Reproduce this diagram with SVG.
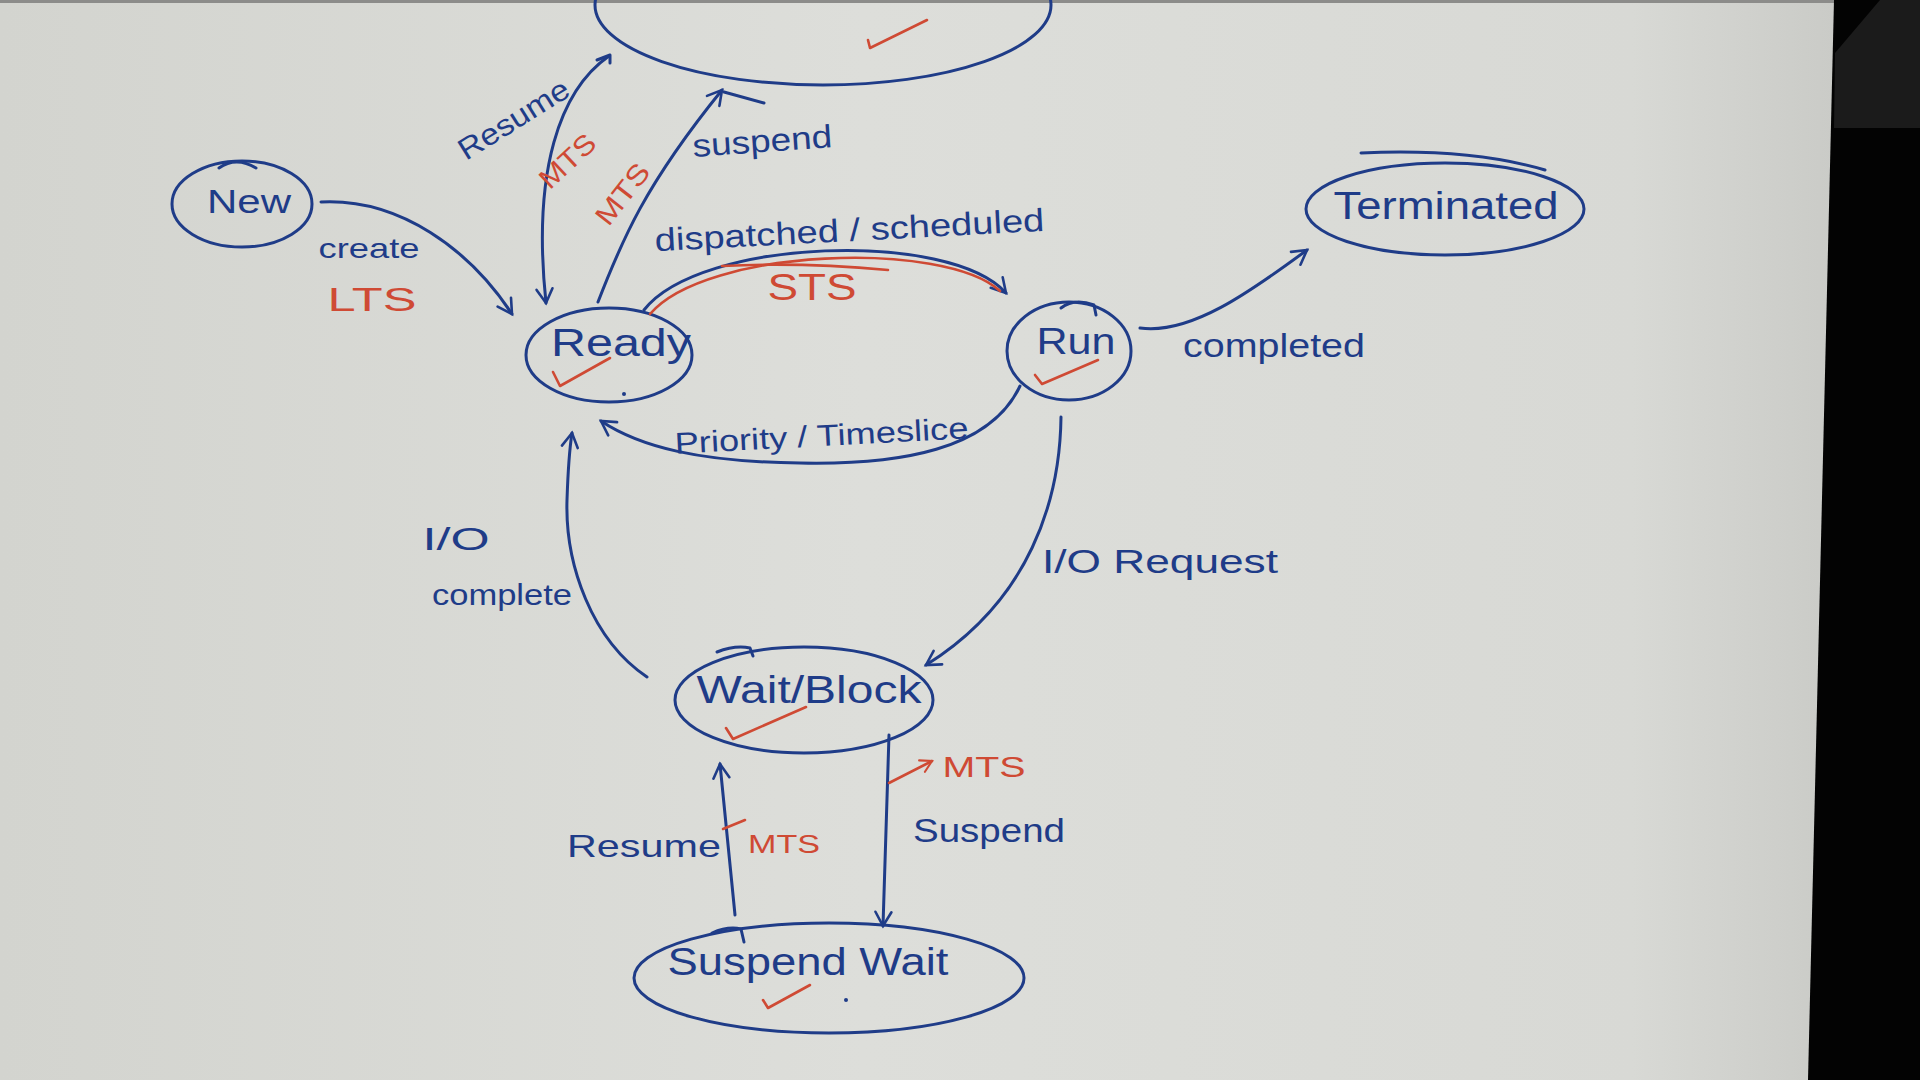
<svg xmlns="http://www.w3.org/2000/svg" width="1920" height="1080" viewBox="0 0 1920 1080">
<defs>
<linearGradient id="paper" x1="0" y1="0" x2="1" y2="0">
<stop offset="0" stop-color="#d3d4cf"/>
<stop offset="0.45" stop-color="#dddeda"/>
<stop offset="0.85" stop-color="#d8d9d5"/>
<stop offset="1" stop-color="#c4c5c1"/>
</linearGradient>
<marker id="ah" viewBox="0 0 20 20" refX="17" refY="10" markerWidth="20" markerHeight="20" markerUnits="userSpaceOnUse" orient="auto">
<path d="M3,2 L17,10 L3,18" fill="none" stroke="#1f3c88" stroke-width="2.6" stroke-linecap="round"/>
</marker>
<marker id="ahr" viewBox="0 0 20 20" refX="17" refY="10" markerWidth="16" markerHeight="16" markerUnits="userSpaceOnUse" orient="auto">
<path d="M3,2 L17,10 L3,18" fill="none" stroke="#cf4a34" stroke-width="2.6" stroke-linecap="round"/>
</marker>
</defs>
<style>
.node{fill:none;stroke:#1f3c88;stroke-width:3;}
.ink{fill:none;stroke:#1f3c88;stroke-width:3;stroke-linecap:round;stroke-linejoin:round;}
.edge{fill:none;stroke:#1f3c88;stroke-width:3;stroke-linecap:round;}
.red{fill:none;stroke:#cf4a34;stroke-width:2.6;stroke-linecap:round;stroke-linejoin:round;}
.t{font-family:"Liberation Sans","DejaVu Sans",sans-serif;fill:#1f3c88;}
.tr{font-family:"Liberation Sans","DejaVu Sans",sans-serif;fill:#cf4a34;}
</style>
<rect x="0" y="0" width="1920" height="1080" fill="url(#paper)"/>
<rect x="0" y="0" width="1920" height="3" fill="#8c8c8a"/>
<polygon points="1834,0 1920,0 1920,1080 1808,1080" fill="#030303"/>
<polygon points="1835,53 1880,0 1920,0 1920,128 1834,128" fill="#1b1b1b"/>

<g id="node-suspend-ready">
<ellipse class="node" cx="823" cy="5" rx="228" ry="80"/>
<path class="red" d="M868 40 L870 48 L927 20"/>
</g>

<g id="node-new">
<ellipse class="node" cx="242" cy="204" rx="70" ry="43"/>
<path class="ink" d="M219 168 Q236 156 256 168"/>
<text class="t" x="249" y="213" font-size="34" text-anchor="middle" textLength="84" lengthAdjust="spacingAndGlyphs">New</text>
</g>

<g id="node-ready">
<ellipse class="node" cx="609" cy="355" rx="83" ry="47"/>
<text class="t" x="621" y="356" font-size="38" text-anchor="middle" textLength="140" lengthAdjust="spacingAndGlyphs">Ready</text>
<path class="red" d="M553 372 L560 386 L610 358"/>
<circle cx="624" cy="394" r="2" fill="#1f3c88"/>
</g>

<g id="node-run">
<ellipse class="node" cx="1069" cy="351" rx="62" ry="49"/>
<path class="ink" d="M1061 308 Q1074 298 1094 305 L1096 315"/>
<text class="t" x="1076" y="354" font-size="36" text-anchor="middle" textLength="79" lengthAdjust="spacingAndGlyphs">Run</text>
<path class="red" d="M1035 375 L1042 384 L1098 360"/>
</g>

<g id="node-terminated">
<ellipse class="node" cx="1445" cy="209" rx="139" ry="46"/>
<path class="ink" d="M1361 153 Q1470 148 1545 170"/>
<text class="t" x="1446" y="219" font-size="38" text-anchor="middle" textLength="225" lengthAdjust="spacingAndGlyphs">Terminated</text>
</g>

<g id="node-wait-block">
<ellipse class="node" cx="804" cy="700" rx="129" ry="53"/>
<path class="ink" d="M717 652 Q735 645 750 648 L753 656"/>
<text class="t" x="809" y="703" font-size="38" text-anchor="middle" textLength="225" lengthAdjust="spacingAndGlyphs">Wait/Block</text>
<path class="red" d="M726 728 L733 739 L806 707"/>
</g>

<g id="node-suspend-wait">
<ellipse class="node" cx="829" cy="978" rx="195" ry="55"/>
<path class="ink" d="M712 933 Q728 926 741 929 L744 942"/>
<text class="t" x="808" y="975" font-size="38" text-anchor="middle" textLength="281" lengthAdjust="spacingAndGlyphs">Suspend Wait</text>
<path class="red" d="M763 1000 L768 1008 L810 985"/>
<circle cx="846" cy="1000" r="2" fill="#1f3c88"/>
</g>

<g id="connectors">
<path class="edge" d="M321 202 C400 198 470 250 512 314" marker-end="url(#ah)"/>
<path class="edge" d="M609 56 C560 90 532 170 546 303" marker-end="url(#ah)"/>
<path class="ink" d="M597 60 L610 55 L610 63"/>
<path class="edge" d="M598 302 C622 240 645 185 722 90" marker-end="url(#ah)"/>
<path class="ink" d="M724 92 L764 103"/>
<path class="edge" d="M644 310 C700 238 950 230 1006 293" marker-end="url(#ah)"/>
<path class="red" d="M650 314 C706 248 944 240 1000 291"/>
<path class="red" d="M722 266 Q800 262 888 270"/>
<path class="edge" d="M1140 328 C1190 335 1250 292 1307 250" marker-end="url(#ah)"/>
<path class="edge" d="M1020 386 C990 450 900 465 800 463 C700 462 640 447 601 421" marker-end="url(#ah)"/>
<path class="edge" d="M1061 417 C1060 500 1030 600 926 665" marker-end="url(#ah)"/>
<path class="edge" d="M647 677 C592 640 565 565 567 500 C568 470 569 452 572 433" marker-end="url(#ah)"/>
<path class="edge" d="M889 735 L883 926" marker-end="url(#ah)"/>
<path class="edge" d="M735 915 L720 764" marker-end="url(#ah)"/>
<path class="red" d="M889 783 L932 761" marker-end="url(#ahr)"/>
<path class="red" d="M723 829 L745 820"/>
</g>

<g id="labels">
<text class="t" x="369" y="258" font-size="28" text-anchor="middle" textLength="101" lengthAdjust="spacingAndGlyphs">create</text>
<text class="tr" x="372" y="311" font-size="34" text-anchor="middle" textLength="89" lengthAdjust="spacingAndGlyphs">LTS</text>
<text class="t" font-size="30" text-anchor="middle" textLength="125" lengthAdjust="spacingAndGlyphs" transform="translate(519 128) rotate(-32)">Resume</text>
<text class="tr" font-size="28" text-anchor="middle" textLength="66" lengthAdjust="spacingAndGlyphs" transform="translate(574 168) rotate(-43)">MTS</text>
<text class="tr" font-size="28" text-anchor="middle" textLength="70" lengthAdjust="spacingAndGlyphs" transform="translate(630 200) rotate(-52)">MTS</text>
<text class="t" font-size="32" text-anchor="middle" textLength="140" lengthAdjust="spacingAndGlyphs" transform="translate(763 152) rotate(-4)">suspend</text>
<text class="t" font-size="32" text-anchor="middle" textLength="390" lengthAdjust="spacingAndGlyphs" transform="translate(850 241) rotate(-3)">dispatched / scheduled</text>
<text class="tr" x="812" y="300" font-size="36" text-anchor="middle" textLength="89" lengthAdjust="spacingAndGlyphs">STS</text>
<text class="t" x="1274" y="357" font-size="34" text-anchor="middle" textLength="182" lengthAdjust="spacingAndGlyphs">completed</text>
<text class="t" font-size="30" text-anchor="middle" textLength="294" lengthAdjust="spacingAndGlyphs" transform="translate(822 446) rotate(-3)">Priority / Timeslice</text>
<text class="t" x="1160" y="573" font-size="34" text-anchor="middle" textLength="236" lengthAdjust="spacingAndGlyphs">I/O Request</text>
<text class="t" x="456" y="550" font-size="32" text-anchor="middle" textLength="67" lengthAdjust="spacingAndGlyphs">I/O</text>
<text class="t" x="502" y="605" font-size="30" text-anchor="middle" textLength="140" lengthAdjust="spacingAndGlyphs">complete</text>
<text class="t" x="644" y="857" font-size="32" text-anchor="middle" textLength="154" lengthAdjust="spacingAndGlyphs">Resume</text>
<text class="tr" x="784" y="853" font-size="26" text-anchor="middle" textLength="72" lengthAdjust="spacingAndGlyphs">MTS</text>
<text class="tr" x="984" y="777" font-size="30" text-anchor="middle" textLength="83" lengthAdjust="spacingAndGlyphs">MTS</text>
<text class="t" x="989" y="842" font-size="34" text-anchor="middle" textLength="152" lengthAdjust="spacingAndGlyphs">Suspend</text>
</g>
</svg>
